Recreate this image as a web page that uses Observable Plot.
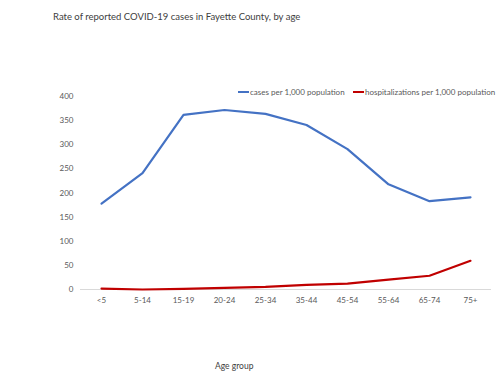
<!DOCTYPE html>
<html>
<head>
<meta charset="utf-8">
<script src="https://cdn.jsdelivr.net/npm/d3@7"></script>
<script src="https://cdn.jsdelivr.net/npm/@observablehq/plot@0.6"></script>
<style>
  body { margin: 0; background: #fff; font-family: Lato, "Open Sans", sans-serif; color: #595959; }
  #wrap { position: relative; width: 500px; height: 386px; }
  .abs { position: absolute; white-space: nowrap; }
  #title { left: 53px; top: 11px; font-size: 9.5px; color: #404040; }
  .leg { top: 87px; font-size: 8px; display: flex; align-items: center; }
  .sw { display: inline-block; width: 11px; height: 2px; margin-right: 1px; }
  #xlabel { left: 215px; top: 361px; font-size: 8.5px; color: #404040; }
</style>
</head>
<body>
<div id="wrap">
  <div id="chart"></div>
  <div class="abs" id="title">Rate of reported COVID-19 cases in Fayette County, by age</div>
  <div class="abs leg" style="left:238px"><span class="sw" style="background:#4472C4"></span>cases per 1,000 population</div>
  <div class="abs leg" style="left:353px"><span class="sw" style="background:#C00000"></span>hospitalizations per 1,000 population</div>
  <div class="abs" id="xlabel">Age group</div>
</div>
<script>
const ageGroups = ["<5", "5-14", "15-19", "20-24", "25-34", "35-44", "45-54", "55-64", "65-74", "75+"];
const casesPer1000 = [178, 241, 362, 372, 364, 341, 291, 218, 183, 191];
const hospPer1000 = [2, 0, 1.5, 3.5, 5.5, 9.5, 12, 20.5, 28.5, 59.5];
const yTicks = [0, 50, 100, 150, 200, 250, 300, 350, 400];

const cases = ageGroups.map((g, i) => ({age: g, value: casesPer1000[i]}));
const hosp = ageGroups.map((g, i) => ({age: g, value: hospPer1000[i]}));

const chart = Plot.plot({
  width: 500,
  height: 386,
  marginTop: 96,
  marginBottom: 97,
  marginLeft: 80,
  marginRight: 9,
  style: {fontFamily: "Lato, 'Open Sans', sans-serif", fontSize: "8px", color: "#595959", background: "transparent"},
  x: {type: "point", domain: ageGroups, padding: 0.5, label: null},
  y: {domain: [0, 400], label: null},
  marks: [
    Plot.axisY({ticks: yTicks, tickSize: 0, tickPadding: 7, label: null}),
    Plot.axisX({tickSize: 0, tickPadding: 8, label: null}),
    Plot.ruleY([0], {stroke: "#d9d9d9", strokeWidth: 1}),
    Plot.line(cases, {x: "age", y: "value", stroke: "#4472C4", strokeWidth: 2.2}),
    Plot.line(hosp, {x: "age", y: "value", stroke: "#C00000", strokeWidth: 2.2})
  ]
});
document.getElementById("chart").appendChild(chart);
</script>
</body>
</html>
